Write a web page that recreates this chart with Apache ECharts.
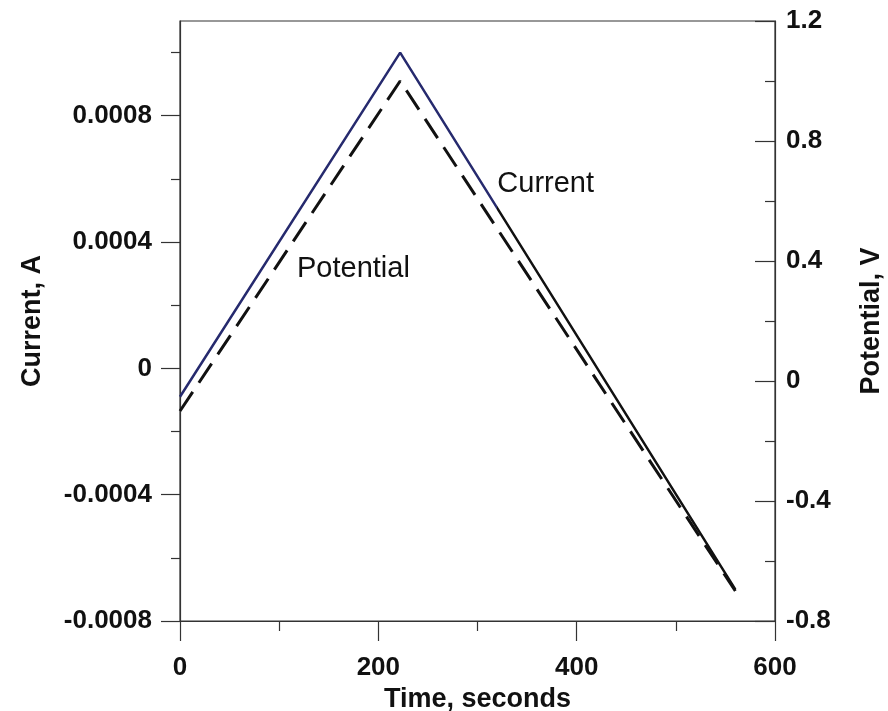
<!DOCTYPE html>
<html>
<head>
<meta charset="utf-8">
<script src="https://cdn.jsdelivr.net/npm/echarts@6/dist/echarts.min.js"></script>
<style>html,body{margin:0;padding:0;background:#fff;}#c{width:888px;height:711px;}</style>
</head>
<body>
<div id="c"></div>
<script>
// ---- data ----
var timeS = [0, 222, 560];
var currentA = [-0.00009, 0.001, -0.0007];
var potentialV = [-0.1, 1.0, -0.7];
var leftMajor = [-0.0008, -0.0004, 0, 0.0004, 0.0008];
var leftMinor = [-0.0006, -0.0002, 0.0002, 0.0006, 0.001];
var leftRange = [-0.0008, 0.0011];
var rightRange = [-0.8, 1.2];
var rightStep = 0.4;
var xRange = [0, 600];
var xStep = 200;
var colorSwitchT = 320;
var annCurrent = {text: 'Current', t: 320, a: 0.000585};
var annPotential = {text: 'Potential', t: 118, v: 0.375};

var FONT = "'Liberation Sans', Arial, Helvetica, sans-serif";
var AX = '#333';
var NAVY = '#262a6e';
var INK = '#111111';
var chart = echarts.init(document.getElementById('c'), null, {renderer: 'canvas'});

function pairs(xs, ys) { return xs.map(function (x, i) { return [x, ys[i]]; }); }
function fmtLeft(v) {
  if (Math.abs(v) < 1e-12) return '0';
  return (v < 0 ? '-' : '') + Math.abs(v).toFixed(4);
}
function fmtRight(v) {
  if (Math.abs(v) < 1e-9) return '0';
  return (Math.round(v * 10) / 10).toString();
}

var labelStyle = {color: '#111', fontFamily: FONT, fontWeight: 'bold', fontSize: 26};
var nameStyle = {color: '#111', fontFamily: FONT, fontWeight: 'bold', fontSize: 27};

var option = {
  backgroundColor: '#fff',
  animation: false,
  grid: {left: 180, top: 21, width: 595, height: 600, containLabel: false, outerBoundsMode: 'none',
    show: true, borderColor: AX, borderWidth: 1.2, backgroundColor: 'transparent'},
  xAxis: [{
    type: 'value', min: xRange[0], max: xRange[1], interval: xStep,
    name: 'Time, seconds', nameLocation: 'middle', nameGap: 59, nameTextStyle: nameStyle,
    axisLine: {show: true, onZero: false, lineStyle: {color: AX, width: 1.2}},
    axisTick: {show: true, inside: false, length: 20, lineStyle: {color: AX, width: 1.2}},
    minorTick: {show: true, splitNumber: 2, length: 10, lineStyle: {color: AX, width: 1.2}},
    splitLine: {show: false}, minorSplitLine: {show: false},
    axisLabel: Object.assign({margin: 34}, labelStyle)
  }],
  yAxis: [{
    type: 'value', position: 'left', min: leftRange[0], max: leftRange[1],
    name: 'Current, A', nameLocation: 'middle', nameRotate: 90, nameGap: 134, nameTextStyle: nameStyle,
    axisLine: {show: true, onZero: false, lineStyle: {color: AX, width: 1.2}},
    axisTick: {show: true, inside: false, length: 19, customValues: leftMajor, lineStyle: {color: AX, width: 1.2}},
    splitLine: {show: false},
    axisLabel: Object.assign({margin: 28, customValues: leftMajor, formatter: fmtLeft}, labelStyle)
  }, {
    type: 'value', position: 'left', min: leftRange[0], max: leftRange[1],
    axisLine: {show: false},
    axisTick: {show: true, inside: false, length: 9, customValues: leftMinor, lineStyle: {color: AX, width: 1.2}},
    splitLine: {show: false},
    axisLabel: {show: false}
  }, {
    type: 'value', position: 'right', min: rightRange[0], max: rightRange[1], interval: rightStep,
    name: 'Potential, V', nameLocation: 'middle', nameRotate: 90, nameGap: 83, nameTextStyle: nameStyle,
    axisLine: {show: true, onZero: false, lineStyle: {color: AX, width: 1.2}},
    axisTick: {show: true, inside: true, length: 20, lineStyle: {color: AX, width: 1.2}},
    minorTick: {show: true, splitNumber: 2, length: 10, lineStyle: {color: AX, width: 1.2}},
    splitLine: {show: false}, minorSplitLine: {show: false},
    axisLabel: Object.assign({margin: 11, formatter: fmtRight}, labelStyle)
  }],
  series: [{
    name: 'Current', type: 'line', xAxisIndex: 0, yAxisIndex: 0,
    data: pairs(timeS, currentA), symbol: 'none', z: 3,
    lineStyle: {width: 2.5, color: INK}
  }, {
    name: 'Potential', type: 'line', xAxisIndex: 0, yAxisIndex: 2,
    data: pairs(timeS, potentialV), symbol: 'none', z: 2,
    lineStyle: {width: 3, color: INK, type: [23, 11]}
  }]
};
chart.setOption(option);

// colour switch of the current trace (navy, then black) and text annotations
var x0 = chart.convertToPixel({xAxisIndex: 0}, xRange[0]);
var x1 = chart.convertToPixel({xAxisIndex: 0}, xRange[1]);
var xs = chart.convertToPixel({xAxisIndex: 0}, colorSwitchT);
var f = (xs - x0) / (x1 - x0);
var pC = chart.convertToPixel({xAxisIndex: 0, yAxisIndex: 0}, [annCurrent.t, annCurrent.a]);
var pP = chart.convertToPixel({xAxisIndex: 0, yAxisIndex: 2}, [annPotential.t, annPotential.v]);
chart.setOption({
  series: [{
    lineStyle: {color: {type: 'linear', x: x0, y: 0, x2: x1, y2: 0, global: true,
      colorStops: [{offset: 0, color: NAVY}, {offset: f, color: NAVY}, {offset: f, color: INK}, {offset: 1, color: INK}]}}
  }, {}],
  graphic: [{
    type: 'text', x: pC[0], y: pC[1],
    style: {text: annCurrent.text, font: '29px ' + FONT, fill: '#111', textAlign: 'left', textVerticalAlign: 'middle'}
  }, {
    type: 'text', x: pP[0], y: pP[1],
    style: {text: annPotential.text, font: '29px ' + FONT, fill: '#111', textAlign: 'left', textVerticalAlign: 'middle'}
  }]
});
</script>
</body>
</html>
